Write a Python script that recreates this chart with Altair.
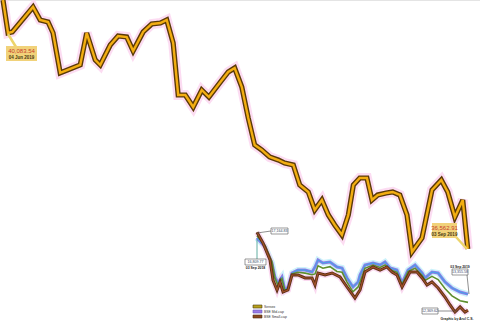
import altair as alt
import pandas as pd

# ---- Main chart: Sensex close, trading-day index counted from 3 Jun 2019 ----
sensex_day = [0.0, 0.7, 1.3, 4.2, 5.2, 6.3, 7.0, 8.0, 10.8, 11.7,
              12.9, 13.6, 15.0, 16.1, 17.3, 18.2, 19.6, 20.8, 22.0, 22.9,
              23.8, 24.5, 25.5, 26.6, 27.8, 28.8, 30.3, 31.5, 32.4, 33.4,
              34.3, 35.2, 36.2, 37.3, 38.5, 39.4, 40.6, 41.5, 42.7, 43.6,
              44.6, 45.5, 46.4, 47.4, 48.3, 49.0, 49.9, 50.9, 51.6, 52.4,
              53.6, 54.5, 55.5, 56.5, 57.2, 58.6, 60.0, 61.3, 62.2, 63.2,
              64.3, 65.0]
sensex_val = [40620, 40084, 40100, 40507, 40295, 40263, 40084, 39432, 39562, 40084,
              39644, 39562, 39888, 40035, 40018, 39790, 40100, 40230, 40246, 40295,
              39920, 39073, 39073, 38877, 39154, 39040, 39268, 39448, 39513, 39203,
              38698, 38258, 38176, 38062, 38013, 37964, 37932, 37606, 37492, 37199,
              37361, 37117, 36954, 36791, 37117, 37606, 37720, 37720, 37361, 37443,
              37476, 37492, 37443, 37117, 36514, 36742, 37525, 37688, 37492, 37084,
              37361, 36563]

# ---- Inset: one year from 3 Sep 2018 (months elapsed) ----
mid_month = [0, 0.46, 0.85, 1.02, 1.19, 1.42, 1.59, 1.76, 1.99, 2.33,
             2.73, 3.13, 3.30, 3.47, 3.75, 4.15, 4.55, 4.84, 5.12, 5.46,
             5.75, 5.86, 6.14, 6.60, 7.00, 7.28, 7.57, 7.96, 8.25, 8.59,
             8.99, 9.39, 9.56, 9.95, 10.30, 10.69, 11.09, 11.55, 12.0]
mid_val = [16810, 16257, 15273, 14412, 14043, 14412, 13612, 13797, 14658, 14842,
           14842, 14719, 15027, 15457, 15273, 15334, 15027, 14965, 14350, 13797,
           14104, 14535, 15150, 15273, 15150, 15334, 14965, 14842, 14043, 14842,
           15150, 14658, 14350, 14719, 14658, 14104, 13735, 13489, 13356]
sensex_rebased = [16950, 16350, 15350, 14350, 13900, 14300, 13550, 13700, 14600, 14700,
                  14650, 14550, 14600, 15100, 14950, 15050, 14750, 14700, 14100, 13500,
                  13800, 14100, 14950, 15150, 15000, 15150, 14850, 14700, 13950, 14750,
                  14950, 14500, 14200, 14450, 14250, 13700, 13250, 12950, 12850]
small_month = [0, 0.34, 0.74, 0.91, 1.14, 1.31, 1.48, 1.76, 1.99, 2.33,
               2.73, 3.13, 3.30, 3.47, 3.87, 4.27, 4.72, 5.12, 5.57, 5.75,
               5.86, 6.14, 6.60, 7.00, 7.39, 7.68, 7.96, 8.25, 8.70, 9.10,
               9.39, 9.67, 9.95, 10.30, 10.69, 10.98, 11.26, 11.55, 11.83, 12.0]
small_val = [17165, 16502, 15457, 14227, 13612, 14104, 13489, 13612, 14535, 14535,
             14350, 14350, 13919, 14658, 14535, 14658, 14412, 13797, 13120, 13428,
             13612, 14719, 15027, 14842, 15027, 14719, 14535, 13797, 14719, 14719,
             14350, 13919, 14104, 13735, 13182, 12690, 12259, 12567, 12259, 12370]

legend_labels = ["Sensex", "BSE Mid-cap", "BSE Small-cap"]

main_df = pd.DataFrame({"day": sensex_day, "val": sensex_val})
mid_df = pd.DataFrame({"m": mid_month, "v": mid_val})
sx_df = pd.DataFrame({"m": mid_month, "v": sensex_rebased})
small_df = pd.DataFrame({"m": small_month, "v": small_val})

MX = alt.Scale(domain=[0, 65], range=[3, 467.75], nice=False, zero=False)
MY = alt.Scale(domain=[35144.6, 40621], range=[336, 0], nice=False, zero=False)
IX = alt.Scale(domain=[0, 12], range=[257, 468], nice=False, zero=False)
IY = alt.Scale(domain=[12000, 17500], range=[316.2, 226.8], nice=False, zero=False)


def main_line(color, w, op=1.0):
    return alt.Chart(main_df).mark_line(color=color, strokeWidth=w, opacity=op,
                                        strokeJoin="miter", strokeMiterLimit=3).encode(
        x=alt.X("day:Q", scale=MX, axis=None),
        y=alt.Y("val:Q", scale=MY, axis=None),
        order="day:Q")


def inset_line(df, color, w, op=1.0):
    return alt.Chart(df).mark_line(color=color, strokeWidth=w, opacity=op).encode(
        x=alt.X("m:Q", scale=IX, axis=None),
        y=alt.Y("v:Q", scale=IY, axis=None),
        order="m:Q")


def one(txt):
    return pd.DataFrame({"t": [txt]})


def label(txt, x, y, size, color="#333333", weight="normal", align="center"):
    return alt.Chart(one(txt)).mark_text(fontSize=size, color=color, fontWeight=weight,
                                         align=align, baseline="middle",
                                         font="Liberation Sans").encode(
        x=alt.value(x), y=alt.value(y), text="t:N")


def box(x1, x2, y1, y2, fill, stroke=None, sw=0.6):
    kw = {"fill": fill}
    if stroke:
        kw.update(stroke=stroke, strokeWidth=sw)
    return alt.Chart(one("b")).mark_rect(**kw).encode(
        x=alt.value(x1), x2=alt.value(x2), y=alt.value(y1), y2=alt.value(y2))


def lead(x1, y1, x2, y2, color, w):
    return alt.Chart(one("l")).mark_rule(color=color, strokeWidth=w).encode(
        x=alt.value(x1), x2=alt.value(x2), y=alt.value(y1), y2=alt.value(y2))


layers = [
    lead(0, 0.5, 480, 0.5, "#e4e4e4", 1),
    # main Sensex line
    main_line("#fbd3ef", 10, 0.8),
    main_line("#5a3a08", 5.2),
    main_line("#f3ae12", 2.4),
    # annotations main
    lead(8, 34, 16, 47, "#ecd46a", 2.5),
    box(6, 37, 46, 61, "#f1d27a"),
    label("40,083.54", 21.5, 50.5, 6, "#c8402c"),
    label("04 Jun 2019", 21.5, 57.5, 4.5, "#4a3a10", "bold"),
    lead(456, 237, 467, 249, "#ecd46a", 2.5),
    box(432, 457, 223, 238, "#f1d27a"),
    label("36,562.91", 444.5, 227.5, 6, "#c8402c"),
    label("03 Sep 2019", 444.5, 234.5, 4.5, "#4a3a10", "bold"),
    # inset halos and lines
    inset_line(mid_df, "#c6f1fb", 6, 0.9),
    inset_line(small_df, "#f9d5ee", 6, 0.9),
    inset_line(mid_df, "#9a7ae4", 3),
    inset_line(mid_df, "#4f9be8", 1.4),
    inset_line(sx_df, "#5e8f2e", 1.6),
    inset_line(small_df, "#5a3015", 3),
    inset_line(small_df, "#a2502a", 1.2),
    # inset annotations
    lead(257, 233, 271, 231, "#444444", 0.6),
    box(271, 288, 228, 234, "#ffffff", "#555555"),
    label("17,164.83", 279.5, 231, 3.6, "#334466"),
    lead(257, 240, 257, 259, "#3a9a8a", 0.8),
    box(245, 266, 259, 265, "#ffffff", "#555555"),
    label("16,809.77", 255.5, 262, 3.6, "#334466"),
    label("03 Sep 2018", 255.5, 268, 3.4, "#222222", "bold"),
    label("03 Sep 2019", 460, 266.5, 3.4, "#222222", "bold"),
    box(452, 468, 269, 275, "#ffffff", "#555555"),
    label("13,355.58", 460, 272, 3.6, "#334466"),
    lead(467, 275, 469, 294, "#444444", 0.6),
    box(422, 438, 308, 314, "#ffffff", "#555555"),
    label("12,369.62", 430, 311, 3.6, "#334466"),
    lead(438, 311, 458, 311, "#444444", 0.6),
    label("Graphic by Arul C.S.", 457, 319, 3.4, "#222222", "bold"),
    # legend
    box(253, 262, 305, 308, "#b8a21c", "#4a3a10", 0.6),
    box(253, 262, 310, 313, "#9a7ae4", "#6a5ac4", 0.6),
    box(253, 262, 315, 318, "#8a4a20", "#4a2a10", 0.6),
    label(legend_labels[0], 264, 306.5, 3.4, "#333333", "normal", "left"),
    label(legend_labels[1], 264, 311.5, 3.4, "#333333", "normal", "left"),
    label(legend_labels[2], 264, 316.5, 3.4, "#333333", "normal", "left"),
]

chart = alt.layer(*layers).resolve_scale(x="independent", y="independent").properties(
    width=480, height=336, padding=0, autosize=alt.AutoSizeParams(type="none"),
    background="#ffffff"
).configure_view(stroke=None)

chart.save("out.html", embed_options={"renderer": "svg", "actions": False})
